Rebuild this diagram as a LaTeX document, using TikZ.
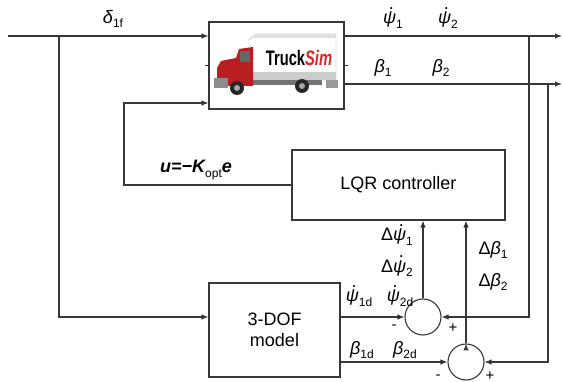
\documentclass[tikz,border=0pt]{standalone}
\usepackage{fontspec}
\setmainfont{Liberation Sans}
\usepackage{xcolor}
\usepackage{graphicx}
\usetikzlibrary{arrows.meta, positioning, shapes.geometric}

\definecolor{cabred}{RGB}{185,30,35}
\definecolor{simred}{RGB}{225,35,40}
\definecolor{wirecol}{RGB}{55,55,55}

\newcommand{\gdot}[1]{\ooalign{\textit{#1}\cr\hidewidth\kern0.2em\smash{\raisebox{0.8em}{.}}\hidewidth\cr}}
\newcommand{\sbs}[1]{\raisebox{-0.25em}{\fontsize{12}{12}\selectfont #1}}

\begin{document}
\begin{tikzpicture}[x=1pt, y=-1pt, >={Latex[length=7pt,width=5.5pt]}, font=\fontsize{18}{21}\selectfont,
  block/.style={rectangle, draw=wirecol, line width=1.1pt, inner sep=0pt, align=center},
  sumnode/.style={circle, draw=wirecol, line width=1.1pt, minimum size=36pt, inner sep=0pt},
  wire/.style={draw=wirecol, line width=1.1pt},
  sig/.style={inner sep=0pt},
  sign/.style={inner sep=0pt, font=\fontsize{15}{15}\selectfont}]

\useasboundingbox (0,0) rectangle (563,382);

% blocks
\node[block, minimum width=135pt, minimum height=87pt] (truck) at (276.5,65.5) {};
\node[block, minimum width=213pt, minimum height=70pt] (lqr) at (398.5,185) {LQR controller};
\node[block, minimum width=131pt, minimum height=94pt] (dof) at (274.5,330) {3-DOF\\model};
\node[sumnode] (sum1) at (423,317) {};
\node[sumnode] (sum2) at (466,362) {};

% truck picture
\filldraw[fill=white, draw=black!35] (249,40) -- (256,34) -- (336,34) -- (336,80) -- (249,80) -- cycle;
\fill[black!12] (256,34) -- (336,34) -- (336,38) -- (252,38) -- cycle;
\fill[black!20] (249,72) rectangle (336,80);
\fill[black!55] (252,80) rectangle (322,85);
\fill[black!40] (326,80) rectangle (338,88);
\fill[cabred] (217,68) -- (221,61) -- (236,58) -- (239,49) -- (253,47) -- (253,86) -- (217,86) -- cycle;
\fill[black!60] (240,51) rectangle (250,62);
\fill[black!45] (214,78) rectangle (228,88);
\foreach \wx/\wy in {237/88, 302/86} {
  \fill[black!85] (\wx,\wy) circle (7);
  \fill[black!35] (\wx,\wy) circle (3);
}
\node[sig] (brand) at (299,58) {\scalebox{0.7}[1]{\fontsize{21}{21}\selectfont\bfseries Truck\textcolor{simred}{\itshape Sim}}};

% points on the wires
\coordinate (src) at (8,36);
\coordinate (br1) at (59,36);
\coordinate (fb) at (124,103);
\coordinate (out1) at (562,36);
\coordinate (out2) at (562,84);
\coordinate (tap1) at (529,36);
\coordinate (tap2) at (548,84);

\draw[wire, ->] (src) -- (src -| truck.west);
\draw[wire, ->] (br1) |- (dof.west |- sum1);
\draw[wire, ->] (lqr.west) -| (fb) -- (fb -| truck.west);
\draw[wire, ->] (truck.east |- out1) -- (out1);
\draw[wire, ->] (truck.east |- out2) -- (out2);
\draw[wire, ->] (tap1) |- (sum1.east);
\draw[wire, ->] (tap2) |- (sum2.east);
\draw[wire] (truck.west) -- ++(-3,0);
\draw[wire] (truck.east) -- ++(3,0);

\path[wire, ->]
(dof.east |- sum1) edge (sum1.west)
(dof.east |- sum2) edge (sum2.west)
(sum1.north) edge (sum1 |- lqr.south)
(sum2.north) edge (sum2 |- lqr.south);

% signal labels
\node[sig] (delta) at (113,19) {\textit{δ}\sbs{1f}};
\node[sig] (psi1) at (393,20) {\gdot{ψ}\sbs{1}};
\node[sig] (psi2) at (448,20) {\gdot{ψ}\sbs{2}};
\node[sig] (beta1) at (383,68) {\textit{β}\sbs{1}};
\node[sig] (beta2) at (441,68) {\textit{β}\sbs{2}};
\node[sig] (ulaw) at (196,170) {\bfseries\itshape u=−K\sbs{\normalfont opt}e};
\node[sig] (dpsi1) at (397,237) {Δ\gdot{ψ}\sbs{1}};
\node[sig, below=14pt of dpsi1] (dpsi2) {Δ\gdot{ψ}\sbs{2}};
\node[sig] (psi1d) at (359,298) {\gdot{ψ}\sbs{1d}};
\node[sig] (psi2d) at (400,298) {\gdot{ψ}\sbs{2d}};
\node[sig] (beta1d) at (362,350) {\textit{β}\sbs{1d}};
\node[sig] (beta2d) at (405,350) {\textit{β}\sbs{2d}};
\node[sig] (dbeta1) at (493,250) {Δ\textit{β}\sbs{1}};
\node[sig, below=14pt of dbeta1] (dbeta2) {Δ\textit{β}\sbs{2}};

% signs at the summing points
\node[sign] (m1) at (394,327) {-};
\node[sign] (p1) at (453,328) {+};
\node[sign] (m2) at (438,377) {-};
\node[sign] (p2) at (490,376) {+};

\end{tikzpicture}
\end{document}
